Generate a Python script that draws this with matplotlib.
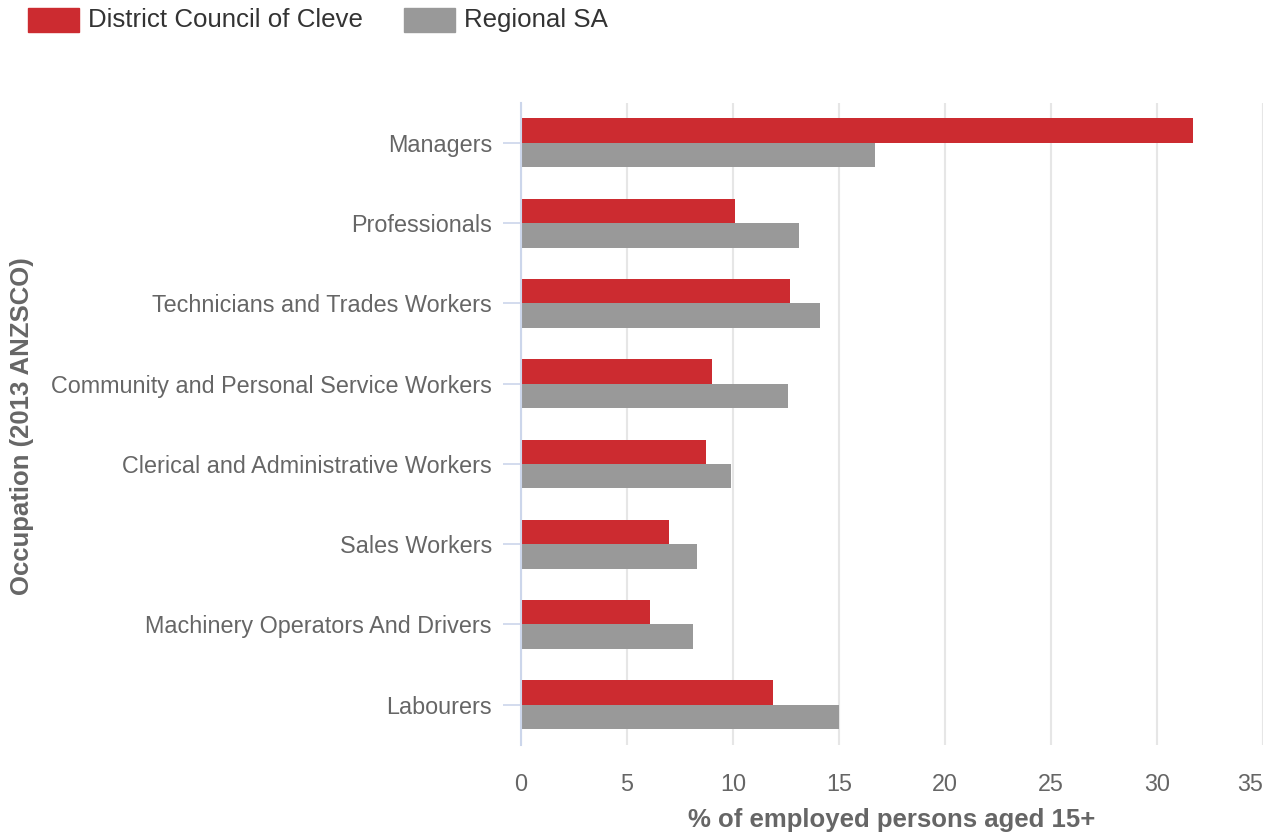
import numpy as np
import matplotlib.pyplot as plt
from matplotlib.patches import Rectangle

plt.rcParams['font.family'] = ['Liberation Sans', 'DejaVu Sans']

occupations = ["Managers", "Professionals", "Technicians and Trades Workers",
               "Community and Personal Service Workers",
               "Clerical and Administrative Workers", "Sales Workers",
               "Machinery Operators And Drivers", "Labourers"]
cleve = [31.7, 10.1, 12.7, 9.0, 8.7, 7.0, 6.1, 11.9]
regional_sa = [16.7, 13.1, 14.1, 12.6, 9.9, 8.3, 8.1, 15.0]
xticks = [0, 5, 10, 15, 20, 25, 30, 35]

red = '#cc2b30'
grey = '#999999'
text_col = '#666666'

fig = plt.figure(figsize=(12.71, 8.36), dpi=100)
ax = fig.add_axes([0.41, 0.109, 0.5837, 0.768])

y = np.arange(len(occupations))
h = 0.305
ax.barh(y - h / 2, cleve, height=h, color=red, zorder=3)
ax.barh(y + h / 2, regional_sa, height=h, color=grey, zorder=3)

ax.set_ylim(len(occupations) - 0.5, -0.5)
ax.set_xlim(0, 35)
ax.set_xticks(xticks)
ax.set_yticks(y)
ax.set_yticklabels(occupations)
ax.grid(axis='x', color='#e6e6e6', linewidth=1.5, zorder=0)

for s in ['top', 'right', 'bottom']:
    ax.spines[s].set_visible(False)
ax.spines['left'].set_color('#ccd6eb')
ax.spines['left'].set_linewidth(1.5)
ax.spines['left'].set_zorder(4)

ax.tick_params(axis='y', length=13, width=1.2, color='#ccd6eb', pad=8,
               labelsize=16.8, labelcolor=text_col)
ax.tick_params(axis='x', length=0, pad=20, labelsize=16.8, labelcolor=text_col)
# keep the last tick label inside the figure
ax.get_xticklabels()[-1].set_horizontalalignment('right')

ax.set_xlabel('% of employed persons aged 15+', fontsize=18.5, fontweight='bold',
              color=text_col, labelpad=9)
fig.text(0.0175, 0.49, 'Occupation (2013 ANZSCO)', rotation=90, fontsize=18.5,
         fontweight='bold', color=text_col, ha='center', va='center')

# legend across the top
W, H = 1271, 836
items = [(28, red, 'District Council of Cleve'), (404, grey, 'Regional SA')]
for x0, col, label in items:
    fig.patches.append(Rectangle((x0 / W, 1 - 32 / H), 51 / W, 24 / H,
                                 transform=fig.transFigure, color=col))
    fig.text((x0 + 60) / W, 1 - 20 / H, label, fontsize=18.6, color='#333333',
             va='center', ha='left')

fig.savefig('out.png', dpi=100)
